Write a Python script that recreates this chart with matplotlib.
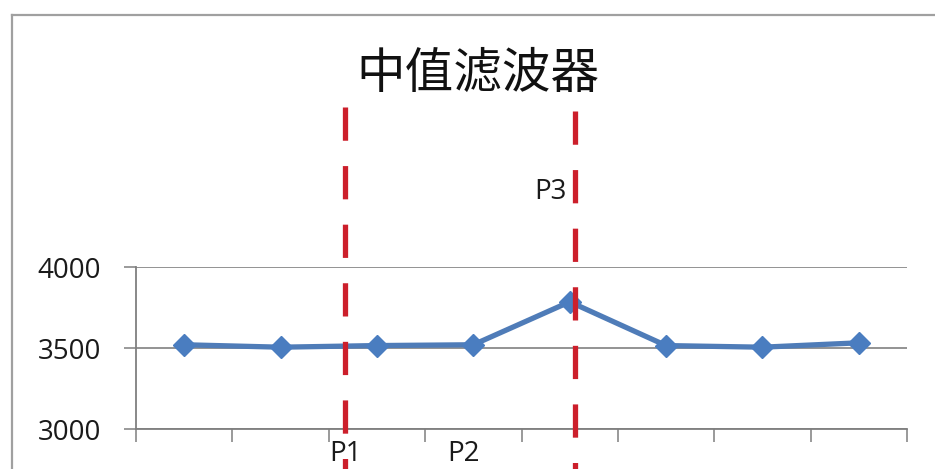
import numpy as np
import matplotlib
matplotlib.use('Agg')
import matplotlib.pyplot as plt

# sample values of the median filter output
samples = [3520, 3505, 3515, 3520, 3785, 3515, 3505, 3532]
yticks = [3000, 3500, 4000]
# positions of the vertical marker lines (in sample index units)
marker_x = [1.67, 4.06]
title = '中值滤波器'
point_labels = ['P1', 'P2', 'P3']

W, H = 935, 469
fig = plt.figure(figsize=(W / 100, H / 100), dpi=100)
fig.patch.set_facecolor('white')

# helper to go from pixel coords to figure fraction
def px(x, y):
    return x / W, 1 - y / H

left, top = px(136, 267)
right, bottom = px(907, 429)
ax = fig.add_axes([left, bottom, right - left, top - bottom])

x = np.arange(len(samples))
ax.plot(x, samples, color='#4f7cb8', linewidth=3.8, marker='D', markersize=11,
        markerfacecolor='#4a7dc0', markeredgecolor='#4a7dc0', zorder=3)

ax.set_xlim(-0.5, len(samples) - 0.5)
ax.set_ylim(yticks[0], yticks[-1])
ax.set_yticks(yticks)
ax.set_yticklabels([str(v) for v in yticks], fontfamily='Open Sans', fontsize=20, color='#1a1a1a')
ax.set_xticks(np.arange(-0.5, len(samples), 1.0))
ax.set_xticklabels([])
ax.tick_params(axis='both', length=9, width=1.1, color='#7f7f7f', direction='out')
ax.tick_params(axis='y', pad=16)

ax.grid(axis='y', color='#8a8a8a', linewidth=1.3)
ax.set_axisbelow(True)
for s in ['top', 'right']:
    ax.spines[s].set_visible(False)
for s in ['left', 'bottom']:
    ax.spines[s].set_color('#7f7f7f')
    ax.spines[s].set_linewidth(1.3)

# red dashed markers, running past the plot area
tops = [1.99, 1.96]
for mx, t in zip(marker_x, tops):
    ax.axvline(mx, ymin=t, ymax=-0.26, color='#cc1f2b', linewidth=3.8,
               dashes=(6.3, 4.8), clip_on=False, zorder=4)

# labels beside the marker lines
fig.text(*px(346, 461), point_labels[0], fontfamily='Open Sans', fontsize=20,
         color='#1a1a1a', ha='center', va='baseline')
fig.text(*px(463, 461), point_labels[1], fontfamily='Open Sans', fontsize=20,
         color='#1a1a1a', ha='center', va='baseline')
fig.text(*px(550, 192), point_labels[2], fontfamily='Open Sans', fontsize=20,
         color='#1a1a1a', ha='center', va='center')

fig.text(*px(478, 74), title, fontfamily=['Noto Sans CJK SC', 'DejaVu Sans'],
         fontsize=35, color='#111111', ha='center', va='center')

# chart border
fig.add_artist(plt.Line2D([12 / W, 12 / W], [0, 1 - 15 / H], color='#a0a0a0', linewidth=1.6))
fig.add_artist(plt.Line2D([12 / W, 1], [1 - 15 / H, 1 - 15 / H], color='#a0a0a0', linewidth=1.6))

fig.savefig('out.png', dpi=100)
